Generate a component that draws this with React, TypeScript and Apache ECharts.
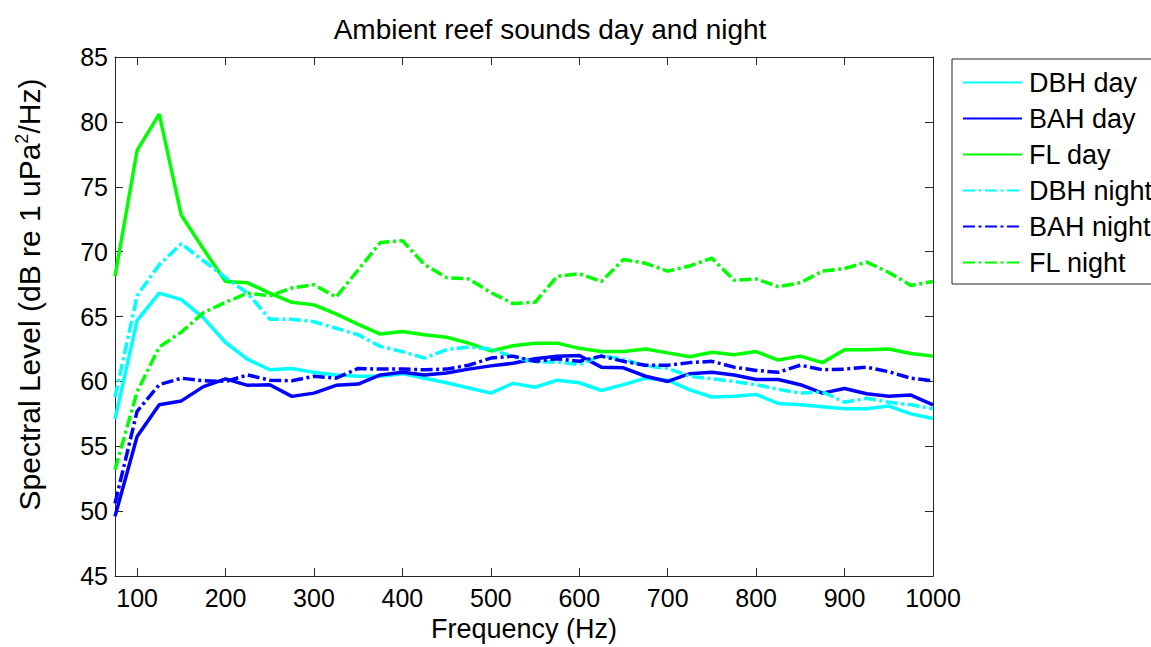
import React, { useEffect, useRef } from "react";
import * as echarts from "echarts";

// Frequency bins (Hz)
const frequencies = [
  75, 100, 125, 150, 175, 200, 225, 250, 275, 300, 325, 350, 375, 400, 425, 450, 475, 500, 525,
  550, 575, 600, 625, 650, 675, 700, 725, 750, 775, 800, 825, 850, 875, 900, 925, 950, 975, 1000,
];

// Spectral levels (dB re 1 uPa^2/Hz)
const dbhDay = [
  57.1, 64.7, 66.8, 66.3, 64.9, 63.0, 61.7, 60.9, 61.0, 60.7, 60.5, 60.4, 60.4, 60.6, 60.25, 59.9,
  59.5, 59.1, 59.85, 59.55, 60.1, 59.9, 59.3, 59.75, 60.25, 60.1, 59.35, 58.8, 58.85, 59.0, 58.3,
  58.2, 58.05, 57.9, 57.9, 58.1, 57.5, 57.15,
];
const bahDay = [
  49.6, 55.75, 58.2, 58.5, 59.6, 60.2, 59.7, 59.75, 58.85, 59.1, 59.7, 59.8, 60.5, 60.7, 60.5,
  60.65, 60.95, 61.2, 61.4, 61.75, 61.95, 62.0, 61.1, 61.05, 60.4, 60.0, 60.6, 60.7, 60.5, 60.15,
  60.15, 59.75, 59.1, 59.45, 59.05, 58.85, 58.95, 58.2,
];
const flDay = [
  68.1, 77.8, 80.6, 72.8, 70.2, 67.7, 67.6, 66.8, 66.1, 65.9, 65.2, 64.4, 63.65, 63.85, 63.6, 63.4,
  62.95, 62.35, 62.75, 62.95, 62.95, 62.55, 62.3, 62.3, 62.5, 62.2, 61.9, 62.25, 62.05, 62.3,
  61.65, 61.95, 61.45, 62.45, 62.45, 62.5, 62.15, 61.95,
];
const dbhNight = [
  58.8, 66.6, 69.0, 70.6, 69.3, 68.0, 66.8, 64.8, 64.8, 64.6, 64.1, 63.6, 62.7, 62.3, 61.8, 62.45,
  62.65, 62.5, 61.9, 61.5, 61.5, 61.3, 62.0, 61.7, 61.2, 61.0, 60.4, 60.2, 60.0, 59.75, 59.4, 59.1,
  59.2, 58.4, 58.7, 58.4, 58.2, 57.9,
];
const bahNight = [
  50.6, 57.7, 59.75, 60.25, 60.05, 60.0, 60.5, 60.1, 60.05, 60.4, 60.25, 61.0, 60.95, 60.95, 60.9,
  60.95, 61.25, 61.8, 61.95, 61.55, 61.75, 61.55, 61.95, 61.55, 61.25, 61.25, 61.45, 61.55, 61.1,
  60.85, 60.7, 61.25, 60.9, 60.95, 61.1, 60.75, 60.25, 60.05,
];
const flNight = [
  53.2, 59.2, 62.65, 63.8, 65.3, 66.1, 66.8, 66.6, 67.2, 67.45, 66.5, 68.6, 70.7, 70.85, 69.0, 68.0,
  67.9, 66.85, 66.0, 66.1, 68.1, 68.3, 67.7, 69.4, 69.1, 68.5, 68.9, 69.5, 67.8, 67.9, 67.3, 67.6,
  68.5, 68.7, 69.2, 68.4, 67.4, 67.7,
];

const xTicks = [100, 200, 300, 400, 500, 600, 700, 800, 900, 1000];

const FONT = "'Liberation Sans', Arial, Helvetica, sans-serif";
const AXIS_COLOR = "#262626";
const DASH_DOT = [12, 3.5, 3, 3.5];

const seriesDefs = [
  { name: "DBH day", data: dbhDay, color: "#00ffff", dashed: false },
  { name: "BAH day", data: bahDay, color: "#0000ff", dashed: false },
  { name: "FL day", data: flDay, color: "#00ff00", dashed: false },
  { name: "DBH night", data: dbhNight, color: "#00ffff", dashed: true },
  { name: "BAH night", data: bahNight, color: "#0000ff", dashed: true },
  { name: "FL night", data: flNight, color: "#00ff00", dashed: true },
];

export default function App() {
  const ref = useRef<HTMLDivElement>(null);

  useEffect(() => {
    if (!ref.current) return;
    const chart = echarts.init(ref.current, undefined, { renderer: "svg" });

    const baseX = {
      type: "value" as const,
      min: 75,
      max: 1000,
      splitLine: { show: false },
      axisLine: { show: true, onZero: false, lineStyle: { color: AXIS_COLOR, width: 1 } },
      axisTick: {
        show: true,
        inside: true,
        length: 8,
        customValues: xTicks,
        lineStyle: { color: AXIS_COLOR, width: 1 },
      },
    };
    const baseY = {
      type: "value" as const,
      min: 45,
      max: 85,
      interval: 5,
      splitLine: { show: false },
      axisLine: { show: true, onZero: false, lineStyle: { color: AXIS_COLOR, width: 1 } },
      axisTick: { show: true, inside: true, length: 8, lineStyle: { color: AXIS_COLOR, width: 1 } },
    };

    chart.setOption({
      animation: false,
      backgroundColor: "#ffffff",
      textStyle: { fontFamily: FONT },
      title: {
        text: "Ambient reef sounds day and night",
        left: 545,
        textAlign: "center",
        top: 10,
        textStyle: { fontFamily: FONT, fontSize: 28, fontWeight: "normal", color: "#000" },
      },
      legend: {
        orient: "vertical",
        left: 952,
        top: 59,
        itemWidth: 59,
        itemHeight: 14,
        itemGap: 9,
        padding: [10, 10, 8, 10],
        borderColor: AXIS_COLOR,
        borderWidth: 1,
        borderRadius: 0,
        backgroundColor: "#ffffff",
        itemStyle: { opacity: 0 },
        textStyle: {
          fontFamily: FONT,
          fontSize: 27,
          color: "#000",
          lineHeight: 26,
          height: 26,
          padding: [0, 0, 0, 2],
        },
        data: seriesDefs.map((s) => s.name),
      },
      grid: { left: 115, top: 57, width: 818, height: 526, containLabel: false },
      xAxis: [
        {
          ...baseX,
          position: "bottom",
          name: "Frequency (Hz)",
          nameLocation: "middle",
          nameGap: 36,
          nameTextStyle: { fontFamily: FONT, fontSize: 27, color: "#000" },
          axisLabel: {
            show: true,
            customValues: xTicks,
            margin: 9,
            fontFamily: FONT,
            fontSize: 25,
            color: "#000",
            formatter: (v: number) => String(v),
          },
        },
        { ...baseX, position: "top", axisLabel: { show: false } },
      ],
      yAxis: [
        {
          ...baseY,
          position: "left",
          name: "Spectral Level (dB re 1 uPa{sup|2}/Hz)",
          nameLocation: "middle",
          nameRotate: 90,
          nameGap: 70,
          nameTextStyle: {
            fontFamily: FONT,
            fontSize: 30,
            color: "#000",
            padding: [0, 0, 0, 44],
            rich: { sup: { fontFamily: FONT, fontSize: 18, color: "#000", padding: [0, 0, 14, 0] } },
          },
          axisLabel: {
            show: true,
            margin: 7,
            fontFamily: FONT,
            fontSize: 25,
            color: "#000",
            formatter: (v: number) => String(v),
          },
        },
        { ...baseY, position: "right", axisLabel: { show: false } },
      ],
      series: seriesDefs.map((s) => ({
        name: s.name,
        type: "line",
        xAxisIndex: 0,
        yAxisIndex: 0,
        data: frequencies.map((f, i) => [f, s.data[i]]),
        symbol: "none",
        showSymbol: false,
        smooth: false,
        color: s.color,
        itemStyle: { color: s.color },
        lineStyle: {
          color: s.color,
          width: 3.5,
          type: s.dashed ? DASH_DOT : "solid",
          cap: "butt",
        },
        emphasis: { disabled: true },
      })),
    });

    return () => chart.dispose();
  }, []);

  return (
    <div
      ref={ref}
      style={{ position: "absolute", left: 0, top: 0, width: 1151, height: 647, background: "#fff" }}
    />
  );
}
